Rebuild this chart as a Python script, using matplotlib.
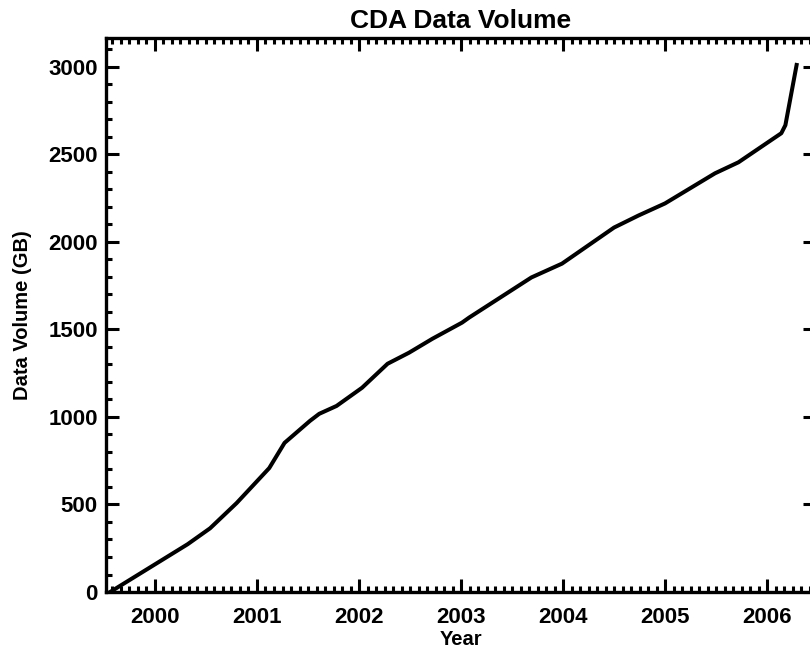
import numpy as np
import matplotlib
matplotlib.use('Agg')
import matplotlib.pyplot as plt
from matplotlib.ticker import MultipleLocator

# cumulative archive volume
years = [1999.56, 2000.32, 2000.54, 2000.80, 2001.12, 2001.27, 2001.52, 2001.61,
         2001.78, 2002.03, 2002.28, 2002.49, 2002.72, 2003.01, 2003.08, 2003.69,
         2003.99, 2004.50, 2004.74, 2005.00, 2005.49, 2005.72, 2006.14, 2006.18,
         2006.29]
volume = [0, 273, 364, 508, 708, 852, 978, 1018,
          1063, 1167, 1304, 1367, 1447, 1539, 1568, 1797,
          1876, 2082, 2151, 2220, 2392, 2455, 2621, 2667,
          3011]

plt.rcParams['font.family'] = ['Liberation Sans', 'DejaVu Sans']
plt.rcParams['font.weight'] = 'bold'

fig = plt.figure(figsize=(8.1, 6.53), dpi=100)
ax = fig.add_axes([0.1309, 0.0934, 0.8765, 0.8484])

ax.plot(years, volume, color='black', lw=2.9, solid_joinstyle='round')

ax.set_xlim(1999.52, 2006.48)
ax.set_ylim(0, 3165)

ax.xaxis.set_major_locator(MultipleLocator(1))
ax.xaxis.set_minor_locator(MultipleLocator(1 / 12))
ax.yaxis.set_major_locator(MultipleLocator(500))
ax.yaxis.set_minor_locator(MultipleLocator(100))

ax.tick_params(which='both', direction='in', top=True, right=True, width=2.2,
               labelsize=16, color='black')
ax.tick_params(which='major', length=9.5)
ax.tick_params(which='minor', length=4.5)
ax.tick_params(axis='x', which='major', pad=11)
ax.tick_params(axis='y', which='major', pad=6)
for lab in ax.get_xticklabels() + ax.get_yticklabels():
    lab.set_fontweight('bold')

for s in ax.spines.values():
    s.set_linewidth(2.4)

ax.set_title('CDA Data Volume', fontsize=19, fontweight='bold', pad=7)
ax.set_xlabel('Year', fontsize=14.5, fontweight='bold', labelpad=1)
ax.set_ylabel('Data Volume (GB)', fontsize=14.5, fontweight='bold', labelpad=12)

fig.savefig('out.png', dpi=100)
